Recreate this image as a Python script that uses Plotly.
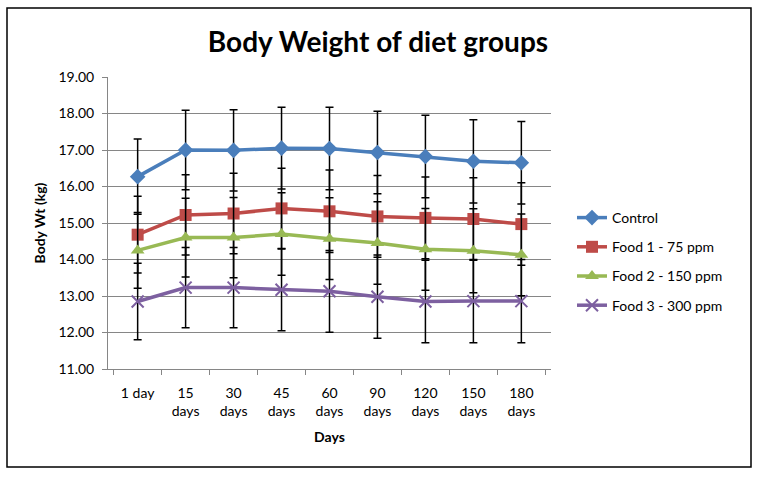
import plotly.graph_objects as go

days = ["1 day", "15<br>days", "30<br>days", "45<br>days", "60<br>days", "90<br>days", "120<br>days", "150<br>days", "180<br>days"]
control = [16.27, 17.00, 16.99, 17.05, 17.04, 16.93, 16.82, 16.69, 16.65]
control_err = [1.03, 1.09, 1.11, 1.12, 1.13, 1.13, 1.13, 1.14, 1.13]
food1 = [14.68, 15.22, 15.26, 15.40, 15.32, 15.18, 15.14, 15.11, 14.97]
food1_err = [1.05, 1.10, 1.10, 1.10, 1.13, 1.12, 1.12, 1.13, 1.13]
food2 = [14.25, 14.60, 14.60, 14.70, 14.57, 14.45, 14.28, 14.24, 14.13]
food2_err = [1.04, 1.08, 1.10, 1.13, 1.12, 1.13, 1.12, 1.15, 1.12]
food3 = [12.85, 13.23, 13.23, 13.17, 13.13, 12.98, 12.85, 12.86, 12.86]
food3_err = [1.05, 1.10, 1.10, 1.12, 1.12, 1.14, 1.13, 1.14, 1.14]

series = [
    ("Control", control, control_err, "#4A7EBB", "diamond", 12),
    ("Food 1 - 75 ppm", food1, food1_err, "#BE4B48", "square", 12),
    ("Food 2 - 150 ppm", food2, food2_err, "#98B954", "triangle-up", 12),
    ("Food 3 - 300 ppm", food3, food3_err, "#7D60A0", "x-thin", 12),
]

FONT = "Lato"
fig = go.Figure()
for i, (name, vals, err, col, sym, sz) in enumerate(series):
    fig.add_trace(go.Scatter(
        x=days, y=vals, name=name, mode="lines+markers",
        legendgroup=str(i),
        line=dict(color=col, width=3.5),
        marker=dict(symbol=sym, size=sz, color=col,
                    line=dict(color=col, width=2 if sym == "x-thin" else 0)),
        error_y=dict(type="data", array=err, visible=True, color="black",
                     thickness=1.5, width=4),
    ))

L, R, T, B = 108, 551, 77, 369
W, H = 758, 478
pw, ph = R - L, B - T

fig.update_layout(
    width=W, height=H,
    margin=dict(l=L, r=W - R, t=T, b=H - B),
    paper_bgcolor="white", plot_bgcolor="white",
    font=dict(family=FONT, size=14, color="black"),
    title=dict(text="<b>Body Weight of diet groups</b>", x=378 / W, xanchor="center",
               y=1 - 42 / H, yanchor="middle", yref="container",
               font=dict(family=FONT, size=28, color="black")),
    showlegend=True,
    legend=dict(x=(572 - L) / pw, xanchor="left", y=(B - 202) / ph, yanchor="top",
                font=dict(family=FONT, size=14), tracegroupgap=8,
                bgcolor="rgba(0,0,0,0)"),
    xaxis=dict(showline=True, linecolor="#868686", linewidth=1,
               ticks="outside", tickson="boundaries", ticklen=5, tickcolor="#868686",
               ticklabelstandoff=11,
               showgrid=False, tickfont=dict(size=14),
               title=dict(text="<b>Days</b>", font=dict(size=14), standoff=14)),
    yaxis=dict(range=[11, 19], dtick=1, tickformat=".2f",
               showline=True, linecolor="#868686", linewidth=1,
               ticks="outside", ticklen=5, tickcolor="#868686",
               ticklabelstandoff=5,
               showgrid=True, gridcolor="#868686", gridwidth=1,
               tickfont=dict(size=14),
               title=dict(text="<b>Body Wt (kg)</b>", font=dict(size=14), standoff=9)),
    shapes=[dict(type="rect", xref="paper", yref="paper",
                 x0=(7 - L) / pw, x1=(751 - L) / pw,
                 y0=(B - 467) / ph, y1=(B - 8) / ph,
                 line=dict(color="black", width=1.5))],
)

fig.write_html("out.html", config={"displayModeBar": False},
               post_script="document.body.style.margin='0';")
